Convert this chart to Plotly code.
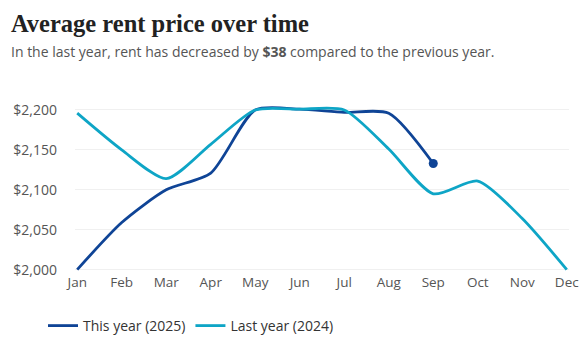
import plotly.graph_objects as go

months = ["Jan", "Feb", "Mar", "Apr", "May", "Jun", "Jul", "Aug", "Sep", "Oct", "Nov", "Dec"]
this_year = [2000, 2059, 2100, 2121, 2200, 2201, 2197, 2196, 2133]
last_year = [2196, 2150, 2114, 2157, 2200, 2201, 2200, 2151, 2095, 2111, 2064, 2000]
yticks = [2000, 2050, 2100, 2150, 2200]
ytick_text = ["$2,000", "$2,050", "$2,100", "$2,150", "$2,200"]

dark = "#0f4496"
light = "#0ea5c6"

W, H = 586, 339
ML, MR, MT, MB = 75, 17, 106, 67

x_this = list(range(len(this_year)))
x_last = list(range(len(last_year)))

fig = go.Figure()
fig.add_trace(go.Scatter(
    x=x_this, y=this_year, mode="lines", name="This year (2025)",
    line=dict(color=dark, width=2.8, shape="spline", smoothing=0.7),
))
fig.add_trace(go.Scatter(
    x=x_last, y=last_year, mode="lines", name="Last year (2024)",
    line=dict(color=light, width=2.8, shape="spline", smoothing=0.7),
))
fig.add_trace(go.Scatter(
    x=[x_this[-1]], y=[this_year[-1]], mode="markers", showlegend=False,
    marker=dict(color=dark, size=9), hoverinfo="skip",
))

fig.update_layout(
    width=W, height=H,
    margin=dict(l=ML, r=MR, t=MT, b=MB, autoexpand=False),
    paper_bgcolor="white", plot_bgcolor="white",
    font=dict(family="Open Sans", size=13, color="#555"),
    showlegend=True,
    legend=dict(orientation="h", xref="container", yref="container",
                x=43 / W, xanchor="left", y=(H - 326) / H, yanchor="middle",
                font=dict(size=14, color="#333"), itemwidth=30),
)
fig.update_xaxes(
    range=[-0.05, 11.05], tickvals=list(range(12)), ticktext=months,
    showgrid=False, zeroline=False, showline=False, ticks="", automargin=False,
    tickfont=dict(size=13.5, color="#555"),
)
fig.update_yaxes(
    range=[1997, 2205], tickvals=yticks, ticktext=ytick_text,
    showgrid=True, gridcolor="#f0f0f0", gridwidth=1, zeroline=False, automargin=False,
    tickfont=dict(size=14, color="#555"), ticklabelstandoff=17,
)

fig.add_annotation(
    x=9 / W, y=1 - 23 / H, xref="paper", yref="paper", xanchor="left", yanchor="middle",
    text="<b>Average rent price over time</b>", showarrow=False,
    font=dict(family="Liberation Serif", size=24.5, color="#222"),
)
fig.add_annotation(
    x=9 / W, y=1 - 52 / H, xref="paper", yref="paper", xanchor="left", yanchor="middle",
    text="In the last year, rent has decreased by <b>$38</b> compared to the previous year.",
    showarrow=False, font=dict(family="Open Sans", size=14, color="#555"),
)

# convert container-pixel positions for annotations to paper coords
plot_w = W - ML - MR
plot_h = H - MT - MB
for ann in fig.layout.annotations:
    px = ann.x * W
    py = (1 - ann.y) * H
    ann.x = (px - ML) / plot_w
    ann.y = (H - MB - py) / plot_h

fig.write_html("out.html")
